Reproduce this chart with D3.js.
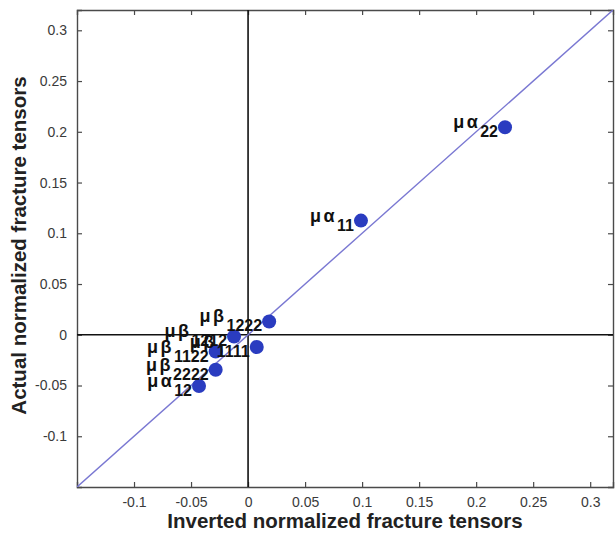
<!DOCTYPE html>
<html>
<head>
<meta charset="utf-8">
<script src="https://cdn.jsdelivr.net/npm/d3@7"></script>
<style>
  html, body { margin: 0; padding: 0; background: #fff; }
  svg { display: block; }
  text { font-family: "Liberation Sans", Arial, sans-serif; }
</style>
</head>
<body>
<svg id="chart" width="615" height="536"></svg>
<script>
// Normalized fracture tensor components: inverted (x) vs actual (y)
const tensorSymbols  = ["μα", "μα", "μβ", "μβ", "μβ", "μβ", "μβ", "μα"];
const tensorIndices  = ["22", "11", "1222", "1212", "1111", "1122", "2222", "12"];
const invertedValues = [0.2253, 0.0990, 0.0185, -0.0123, 0.0076, -0.0284, -0.0284, -0.0430];
const actualValues   = [0.2044, 0.1125, 0.0131, -0.0017, -0.0121, -0.0165, -0.0345, -0.0505];

const axisDomain = [-0.15, 0.32];
const tickValues = [-0.1, -0.05, 0, 0.05, 0.1, 0.15, 0.2, 0.25, 0.3];
const xLabel = "Inverted normalized fracture tensors";
const yLabel = "Actual normalized fracture tensors";

const svg = d3.select("#chart");
const plotLeft = 77, plotRight = 613, plotTop = 10, plotBottom = 487;

const x = d3.scaleLinear().domain(axisDomain).range([plotLeft, plotRight]);
const y = d3.scaleLinear().domain(axisDomain).range([plotBottom, plotTop]);

const boxColor = "#4a4a4a";
const tickText = "#3a3a3a";
const fmt = d => d === 0 ? "0" : String(d).replace("−", "-");

svg.append("defs").append("clipPath").attr("id", "plotClip")
  .append("rect").attr("x", plotLeft).attr("y", plotTop)
  .attr("width", plotRight - plotLeft).attr("height", plotBottom - plotTop);

// axes with inward ticks on all four sides
const bottomAxis = d3.axisBottom(x).tickValues(tickValues).tickSize(-5).tickPadding(10).tickFormat(fmt);
const topAxis    = d3.axisTop(x).tickValues(tickValues).tickSize(-5).tickFormat("");
const leftAxis   = d3.axisLeft(y).tickValues(tickValues).tickSize(-5).tickPadding(10).tickFormat(fmt);
const rightAxis  = d3.axisRight(y).tickValues(tickValues).tickSize(-5).tickFormat("");

function styleAxis(g) {
  g.select(".domain").attr("stroke", boxColor).attr("stroke-width", 1.4);
  g.selectAll(".tick line").attr("stroke", boxColor).attr("stroke-width", 1.2);
  g.selectAll(".tick text").attr("fill", tickText)
    .style("font-family", "'Liberation Sans', Arial, sans-serif").style("font-size", "14px");
}

svg.append("g").attr("transform", `translate(0,${plotBottom})`).call(bottomAxis).call(styleAxis);
svg.append("g").attr("transform", `translate(0,${plotTop})`).call(topAxis).call(styleAxis);
svg.append("g").attr("transform", `translate(${plotLeft},0)`).call(leftAxis).call(styleAxis);
svg.append("g").attr("transform", `translate(${plotRight},0)`).call(rightAxis).call(styleAxis);

const plot = svg.append("g").attr("clip-path", "url(#plotClip)");

// zero lines
plot.append("line")
  .attr("x1", x(axisDomain[0])).attr("x2", x(axisDomain[1]))
  .attr("y1", y(0)).attr("y2", y(0))
  .attr("stroke", "#111").attr("stroke-width", 1.6);
plot.append("line")
  .attr("x1", x(0)).attr("x2", x(0))
  .attr("y1", y(axisDomain[0])).attr("y2", y(axisDomain[1]))
  .attr("stroke", "#111").attr("stroke-width", 1.6);

// 1:1 reference line
plot.append("line")
  .attr("x1", x(axisDomain[0])).attr("y1", y(axisDomain[0]))
  .attr("x2", x(axisDomain[1])).attr("y2", y(axisDomain[1]))
  .attr("stroke", "#7a78d2").attr("stroke-width", 1.4);

const points = invertedValues.map((v, i) => ({
  x: v, y: actualValues[i], sym: tensorSymbols[i], idx: tensorIndices[i]
}));

plot.selectAll("circle.pt").data(points).enter().append("circle")
  .attr("class", "pt")
  .attr("cx", d => x(d.x)).attr("cy", d => y(d.y)).attr("r", 7)
  .attr("fill", "#2a3cc0");

// component labels, right-aligned against each marker, index as subscript
points.forEach(d => {
  const t = svg.append("text")
    .attr("text-anchor", "end")
    .attr("font-weight", "bold")
    .attr("fill", "#111")
    .attr("x", x(d.x) - 7)
    .attr("y", y(d.y) + 1);
  t.append("tspan").style("font-size", "18px").attr("letter-spacing", "2.5px").text(d.sym);
  t.append("tspan").style("font-size", "16px").attr("dy", 9).attr("dx", 0).text(d.idx);
});

// axis titles
svg.append("text")
  .attr("x", (plotLeft + plotRight) / 2).attr("y", 528)
  .attr("text-anchor", "middle")
  .attr("font-weight", "bold").style("font-size", "20.5px").attr("fill", "#222")
  .text(xLabel);

svg.append("text")
  .attr("transform", `translate(26,${(plotTop + plotBottom) / 2 - 3}) rotate(-90)`)
  .attr("text-anchor", "middle")
  .attr("font-weight", "bold").style("font-size", "20.5px").attr("fill", "#222")
  .text(yLabel);
</script>
</body>
</html>
